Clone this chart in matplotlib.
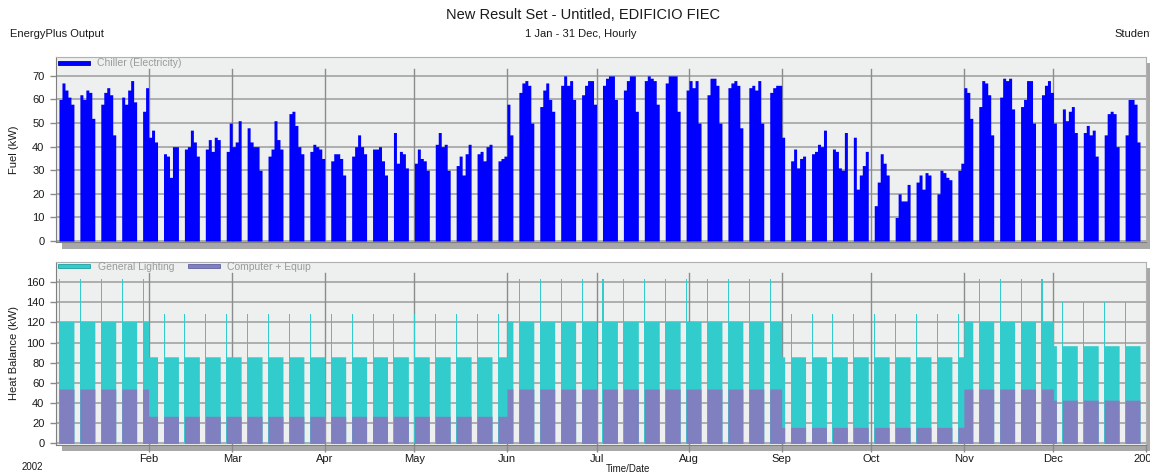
import numpy as np
import matplotlib
matplotlib.use("Agg")
import matplotlib.pyplot as plt
from matplotlib.patches import Rectangle
from matplotlib.transforms import Bbox

plt.rcParams['font.family'] = ['Liberation Sans', 'DejaVu Sans']

W, H = 1160, 472

# ---------------- data ----------------
month_days = [31, 28, 31, 30, 31, 30, 31, 31, 30, 31, 30, 31]
month_labels = ["Feb", "Mar", "Apr", "May", "Jun", "Jul", "Aug", "Sep", "Oct", "Nov", "Dec", "2003"]
first_monday = 1  # Jan 1 is a Sunday; Mon-Fri are working days

# Chiller (Electricity) daily peak, kW, Mon..Fri for each week
chiller_q1 = [60, 67, 64, 61, 58,  62, 60, 64, 63, 52,  58, 63, 65, 62, 45,  61, 58, 64, 68, 59,
              55, 65, 44, 47, 42,  37, 36, 27, 40, 40,  39, 40, 47, 42, 36,  39, 43, 38, 44, 43,
              38, 50, 40, 42, 51,  48, 42, 40, 40, 30,  36, 39, 51, 43, 39,  54, 55, 49, 40, 37,
              38, 41, 40, 39, 35]
chiller_q2 = [34, 37, 37, 35, 28,  36, 40, 45, 40, 37,  39, 39, 40, 34, 28,  46, 33, 38, 37, 31,
              33, 39, 35, 34, 30,  41, 46, 40, 41, 30,  32, 36, 28, 37, 41,  37, 38, 34, 40, 41,
              34, 35, 36, 58, 45,  63, 67, 68, 66, 50,  57, 64, 67, 60, 55,  66, 70, 66, 68, 60,
              62, 66, 68, 68, 58]
chiller_q3 = [66, 69, 70, 70, 60,  64, 68, 70, 70, 55,  68, 70, 69, 68, 58,  67, 70, 70, 70, 55,
              64, 68, 65, 68, 50,  62, 69, 69, 66, 50,  65, 67, 68, 66, 48,  65, 66, 64, 68, 50,
              63, 65, 66, 66, 44,  34, 39, 31, 35, 36,  37, 38, 41, 40, 47,  39, 38, 31, 30, 46,
              44, 22, 28, 32, 38]
chiller_q4 = [15, 25, 37, 33, 28,  10, 20, 17, 17, 24,  25, 28, 22, 29, 28,  20, 30, 29, 27, 26,
              30, 33, 65, 63, 52,  57, 68, 67, 62, 45,  61, 69, 68, 69, 56,  57, 60, 68, 68, 50,
              62, 66, 68, 63, 50,  56, 51, 55, 57, 46,  46, 49, 45, 47, 36,  45, 54, 55, 54, 40,
              45, 60, 60, 58, 42]

# Heat balance schedule periods (start month) and levels, kW
period_start_month = [1, 2, 6, 9, 11, 12]
lighting_level = [121, 86, 121, 86, 121, 97]
lighting_peak = [163, 128, 163, 128, 163, 140]
equip_level = [54, 27, 54, 16, 54, 43]

fuel_ticks = [0, 10, 20, 30, 40, 50, 60, 70]
heat_ticks = [0, 20, 40, 60, 80, 100, 120, 140, 160]

BLUE = '#0000ff'
TEAL = '#33cccc'
PURPLE = '#8080c0'

# ---------------- derived ----------------
month_start = np.concatenate([[0], np.cumsum(month_days)])
n_days = int(month_start[-1])
chiller = np.array(chiller_q1 + chiller_q2 + chiller_q3 + chiller_q4, float)
n_weeks = len(chiller) // 5
weekdays = np.array([first_monday + 7 * k + d for k in range(n_weeks) for d in range(5)])
mondays = first_monday + 7 * np.arange(n_weeks)

chiller_daily = np.zeros(n_days)
chiller_daily[weekdays] = chiller

period_start_day = month_start[np.array(period_start_month) - 1]
pidx = np.searchsorted(period_start_day, weekdays, side='right') - 1
light_daily = np.zeros(n_days)
light_daily[weekdays] = np.array(lighting_level)[pidx]
equip_daily = np.zeros(n_days)
equip_daily[weekdays] = np.array(equip_level)[pidx]
midx = np.searchsorted(period_start_day, mondays, side='right') - 1
peak_vals = np.array(lighting_peak)[midx]

x_edges = np.arange(n_days + 1)

# ---------------- figure ----------------
fig = plt.figure(figsize=(W / 100, H / 100), dpi=100)
fig.patch.set_facecolor('white')
clip_right = Bbox.from_extents(0, 0, 1150, H)


def fig_rect(l, t, r, b):
    return [l / W, 1 - b / H, (r - l) / W, (b - t) / H]


def fig_box(l, t, r, b, **kw):
    fig.add_artist(Rectangle((l / W, 1 - b / H), (r - l) / W, (b - t) / H,
                             transform=fig.transFigure, **kw))


# 3D depth shadows
fig_box(62, 63, 1150, 249, facecolor='#a8a8a8', edgecolor='none', zorder=-1)
fig_box(62, 268, 1150, 451, facecolor='#a8a8a8', edgecolor='none', zorder=-1)

ax1 = fig.add_axes(fig_rect(56, 57, 1146, 242))
ax2 = fig.add_axes(fig_rect(56, 262, 1146, 445))


def style(ax, ticks, ymin, ymax, vtop):
    ax.set_facecolor('#eeefef')
    ax.set_xlim(0, n_days)
    ax.set_ylim(ymin, ymax)
    ax.set_yticks(ticks)
    ax.yaxis.grid(True, color='#a9a9a9', lw=1.3)
    ax.set_axisbelow(True)
    for xm in month_start[1:-1]:
        ax.axvline(xm, ymin=0, ymax=vtop, color='#8c8c8c', lw=1, zorder=1.5)
    ax.spines['left'].set_color('#7f7f7f')
    ax.spines['bottom'].set_color('#7f7f7f')
    ax.spines['top'].set_color('#b0b0b0')
    ax.spines['right'].set_color('#b0b0b0')
    ax.tick_params(axis='y', direction='out', length=4.3, width=1, color='#8a8a8a',
                   pad=4, labelsize=8, labelcolor='#1a1a1a')


style(ax1, fuel_ticks, -0.4, 78, 0.935)
style(ax2, heat_ticks, -1.5, 180, 0.94)

ax1.fill_between(x_edges, np.append(chiller_daily, 0), step='post', color=BLUE, lw=0, zorder=2)

ax2.fill_between(x_edges, np.append(light_daily, 0), step='post', color=TEAL, lw=0, zorder=2)
ax2.bar(mondays, peak_vals, width=0.35, align='edge', color=TEAL, lw=0, zorder=2)
ax2.fill_between(x_edges, np.append(equip_daily, 0), step='post', color=PURPLE, lw=0, zorder=3)

ax1.set_xticks(month_start[1:])
ax1.tick_params(axis='x', length=0, labelbottom=False)
ax2.set_xticks(month_start[1:])
ax2.set_xticklabels(month_labels)
ax2.tick_params(axis='x', direction='out', length=5, width=1, color='#8a8a8a', pad=1.5,
                labelsize=8, labelcolor='#1a1a1a')
last = ax2.get_xticklabels()[-1]
last.set_clip_box(clip_right)
last.set_clip_on(True)

# legends
fig_box(58, 61, 90, 65, facecolor=BLUE, edgecolor='#0000a0', lw=0.6, zorder=5)
fig.text(97 / W, 1 - 63 / H, "Chiller (Electricity)", color='#9a9a9a', fontsize=7.5,
         ha='left', va='center')
fig_box(58, 264, 90, 268, facecolor=TEAL, edgecolor='#20a0a0', lw=0.6, zorder=5)
fig.text(98 / W, 1 - 266.5 / H, "General Lighting", color='#9a9a9a', fontsize=7.5,
         ha='left', va='center')
fig_box(188, 264, 220, 268, facecolor=PURPLE, edgecolor='#6060a0', lw=0.6, zorder=5)
fig.text(227 / W, 1 - 266.5 / H, "Computer + Equip", color='#9a9a9a', fontsize=7.5,
         ha='left', va='center')

# titles & labels
fig.text(583 / W, 1 - 15 / H, "New Result Set - Untitled, EDIFICIO FIEC", fontsize=10.5,
         ha='center', va='center', color='#1a1a1a')
fig.text(10 / W, 1 - 34 / H, "EnergyPlus Output", fontsize=8, ha='left', va='center', color='#1a1a1a')
fig.text(581 / W, 1 - 34 / H, "1 Jan - 31 Dec, Hourly", fontsize=8, ha='center', va='center',
         color='#1a1a1a')
stud = fig.text(1114 / W, 1 - 34 / H, "Student", fontsize=8, ha='left', va='center',
                color='#1a1a1a')
stud.set_clip_box(clip_right)
stud.set_clip_on(True)
fig.text(14 / W, 1 - 150 / H, "Fuel (kW)", fontsize=8, rotation=90, ha='center', va='center',
         color='#1a1a1a')
fig.text(14 / W, 1 - 353 / H, "Heat Balance (kW)", fontsize=8, rotation=90, ha='center',
         va='center', color='#1a1a1a')
fig.text(22 / W, 1 - 462 / H, "2002", fontsize=7, ha='left', va='top', color='#1a1a1a')
fig.text(628 / W, 1 - 464 / H, "Time/Date", fontsize=7, ha='center', va='top', color='#1a1a1a')

fig.savefig('out.png', dpi=100, facecolor='white')
